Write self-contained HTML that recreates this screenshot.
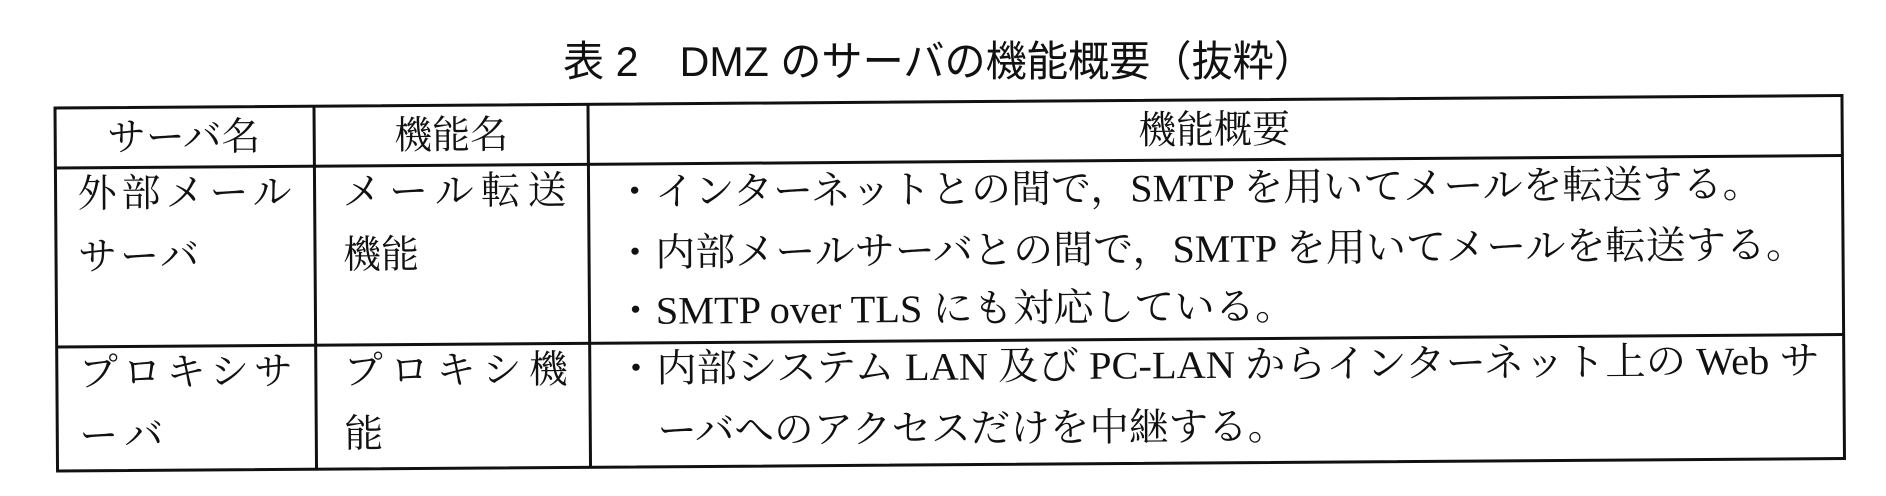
<!DOCTYPE html>
<html><head><meta charset="utf-8"><style>
html,body{margin:0;padding:0;background:#fff;}
svg{display:block}
.t{font-family:"Liberation Serif","Noto Serif CJK SC",serif;font-size:39px;fill:#111;}
.h{font-family:"Liberation Sans","Noto Sans CJK JP",sans-serif;font-size:42px;fill:#111;}
</style></head><body>
<svg width="1886" height="496" viewBox="0 0 1886 496" xmlns="http://www.w3.org/2000/svg">
<rect width="1886" height="496" fill="#fff"/>
<text class="h" x="563" y="76" textLength="752" lengthAdjust="spacingAndGlyphs">表 2　DMZ のサーバの機能概要（抜粋）</text>
<g transform="rotate(-0.4 55 108)">
<g stroke="#111" stroke-width="3" fill="none">
<rect x="55" y="108" width="1787" height="363"/>
<line x1="55" y1="168" x2="1842" y2="168"/>
<line x1="55" y1="347" x2="1842" y2="347"/>
<line x1="314" y1="108" x2="314" y2="471"/>
<line x1="588" y1="108" x2="588" y2="471"/>
</g>
<g class="t">
<text x="107" y="151" textLength="153" lengthAdjust="spacingAndGlyphs">サーバ名</text>
<text x="394" y="151" textLength="114" lengthAdjust="spacingAndGlyphs">機能名</text>
<text x="1138" y="151" textLength="152" lengthAdjust="spacingAndGlyphs">機能概要</text>

<text x="77" y="207" textLength="214" lengthAdjust="spacing">外部メール</text>
<text x="77" y="270" textLength="121" lengthAdjust="spacing">サーバ</text>
<text x="342" y="207" textLength="224" lengthAdjust="spacing">メール転送</text>
<text x="342" y="270" textLength="76" lengthAdjust="spacingAndGlyphs">機能</text>

<text x="614" y="209" textLength="1148" lengthAdjust="spacingAndGlyphs">・インターネットとの間で，SMTP を用いてメールを転送する。</text>
<text x="614" y="270" textLength="1191" lengthAdjust="spacingAndGlyphs">・内部メールサーバとの間で，SMTP を用いてメールを転送する。</text>
<text x="614" y="328" textLength="680" lengthAdjust="spacingAndGlyphs">・SMTP over TLS にも対応している。</text>

<text x="77" y="386" textLength="214" lengthAdjust="spacing">プロキシサ</text>
<text x="77" y="449" textLength="84" lengthAdjust="spacing">ーバ</text>
<text x="342" y="386" textLength="224" lengthAdjust="spacing">プロキシ機</text>
<text x="342" y="449">能</text>

<text x="614" y="386" textLength="1204" lengthAdjust="spacingAndGlyphs">・内部システム LAN 及び PC-LAN からインターネット上の Web サ</text>
<text x="655" y="448" textLength="630" lengthAdjust="spacingAndGlyphs">ーバへのアクセスだけを中継する。</text>
</g>
</g>
</svg>
</body></html>
